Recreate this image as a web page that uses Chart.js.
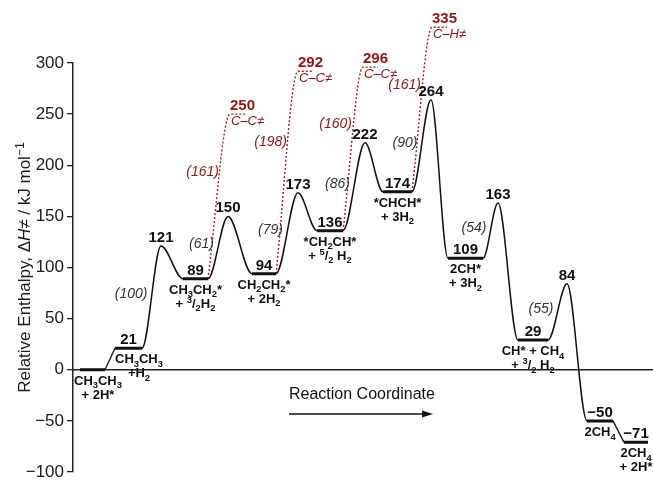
<!DOCTYPE html>
<html>
<head>
<meta charset="utf-8">
<script src="https://cdn.jsdelivr.net/npm/chart.js@4.4.1/dist/chart.umd.min.js"></script>
<style>
  html, body { margin: 0; padding: 0; background: #fff; }
  #wrap { width: 653px; height: 482px; }
</style>
</head>
<body>
<div id="wrap"><canvas id="energyChart"></canvas></div>
<script>
// intermediates: enthalpy (kJ/mol) and their span on the reaction coordinate
const stateEnergy = [0, 21, 89, 94, 136, 174, 109, 29, -50, -71];
const stateStart = [7, 42, 110, 179, 244, 310, 375, 445, 514, 551];
const stateEnd = [32, 69, 135, 203, 270, 339, 410, 475, 540, 575];
// '_' = subscript next char, '^' = superscript next char, '|' = new line
const stateNames = [
  'CH_3CH_3|+ 2H*',
  'CH_3CH_3|+H_2',
  'CH_3CH_2*|+ ^3/_2H_2',
  'CH_2CH_2*|+ 2H_2',
  '*CH_2CH*|+ ^5/_2 H_2',
  '*CHCH*|+ 3H_2',
  '2CH*|+ 3H_2',
  'CH* + CH_4|+ ^3/_2 H_2',
  '2CH_4',
  '2CH_4|+ 2H*'
];

// transition states between state i+1 and i+2 (solid path)
const tsEnergy = [121, 150, 173, 222, 264, 163, 84];
const tsCoord = [88, 155, 225, 292, 358, 425, 494];
const tsBarrier = [100, 61, 79, 86, 90, 54, 55];

// competing C-C / C-H cleavage transition states (red dotted)
const ccFrom = [2, 3, 4, 5];
const ccEnergy = [250, 292, 296, 335];
const ccCoord = [157, 225, 290, 359];
const ccBarrier = [161, 198, 160, 161];
const ccNames = ['C–C≠', 'C–C≠', 'C–C≠', 'C–H≠'];

const yTicks = [-100, -50, 0, 50, 100, 150, 200, 250, 300];

const FONT = '"Liberation Sans", Arial, sans-serif';
const BLACK = '#111';
const RED = '#a3201f';
const RED_TXT = '#8e1515';
const fmt = v => String(v).replace('-', '−');

// split a marked-up label into runs of the same style
function runs(str) {
  const out = [];
  let italic = false;
  for (let k = 0; k < str.length; k++) {
    let c = str[k], mode = 0;
    if (c === '~') { italic = !italic; continue; }
    if (c === '_' || c === '^') { mode = c === '_' ? 1 : -1; c = str[++k]; }
    const last = out[out.length - 1];
    if (last && last.mode === mode && last.italic === italic) last.t += c;
    else out.push({ t: c, mode, italic });
  }
  return out;
}
function runFont(r, size, bold) {
  const s = r.mode ? size * 0.72 : size;
  return (r.italic ? 'italic ' : '') + (bold ? 'bold ' : '') + s + 'px ' + FONT;
}
function richWidth(ctx, str, size, bold) {
  let w = 0;
  runs(str).forEach(r => { ctx.font = runFont(r, size, bold); w += ctx.measureText(r.t).width; });
  return w;
}
function drawRich(ctx, str, cx, baseY, size, bold) {
  let x = cx - richWidth(ctx, str, size, bold) / 2;
  ctx.textAlign = 'left';
  ctx.textBaseline = 'alphabetic';
  runs(str).forEach(r => {
    ctx.font = runFont(r, size, bold);
    const dy = r.mode === 1 ? size * 0.28 : r.mode === -1 ? -size * 0.38 : 0;
    ctx.fillText(r.t, x, baseY + dy);
    x += ctx.measureText(r.t).width;
  });
}

// solid path: plateau, TS, plateau, ...
const pathPts = [];
for (let i = 1; i <= 8; i++) {
  pathPts.push({ x: stateStart[i], y: stateEnergy[i] }, { x: stateEnd[i], y: stateEnergy[i] });
  if (i <= 7) pathPts.push({ x: tsCoord[i - 1], y: tsEnergy[i - 1] });
}
const levelPts = [];
stateEnergy.forEach((e, i) => {
  levelPts.push({ x: stateStart[i], y: e }, { x: stateEnd[i], y: e }, { x: stateEnd[i], y: null });
});

const datasets = [
  { data: levelPts, borderColor: BLACK, borderWidth: 3, tension: 0 },
  { data: pathPts, borderColor: BLACK, borderWidth: 1.5, cubicInterpolationMode: 'monotone' },
  { data: [{ x: stateEnd[0], y: stateEnergy[0] }, { x: stateStart[1], y: stateEnergy[1] }],
    borderColor: BLACK, borderWidth: 1.3, tension: 0 },
  { data: [{ x: stateEnd[8], y: stateEnergy[8] }, { x: stateStart[9], y: stateEnergy[9] }],
    borderColor: BLACK, borderWidth: 1.3, tension: 0 }
];
ccEnergy.forEach((e, j) => {
  const s = ccFrom[j];
  datasets.push({
    data: [{ x: stateEnd[s], y: stateEnergy[s] }, { x: ccCoord[j], y: e }, { x: ccCoord[j] + 15, y: e }],
    borderColor: RED, borderWidth: 1.4, borderDash: [2, 2],
    cubicInterpolationMode: 'monotone', capBezierPoints: false, clip: false
  });
});

const diagramPlugin = {
  id: 'diagram',
  beforeDatasetsDraw(chart) {
    const { ctx, chartArea: a, scales: { y } } = chart;
    const y0 = y.getPixelForValue(0);
    ctx.save();
    ctx.strokeStyle = '#222';
    ctx.lineWidth = 1.3;
    ctx.beginPath();
    ctx.moveTo(a.left, y0);
    ctx.lineTo(a.right, y0);
    ctx.stroke();
    ctx.restore();
  },
  afterDraw(chart) {
    const { ctx, chartArea: a, scales: { x, y } } = chart;
    ctx.save();
    ctx.fillStyle = BLACK;

    // species and their enthalpies (the 0 reference level carries no number)
    stateNames.forEach((name, i) => {
      const x0 = x.getPixelForValue(stateStart[i]);
      const x1 = x.getPixelForValue(stateEnd[i]);
      const py = y.getPixelForValue(stateEnergy[i]);
      const lines = name.split('|');
      const bw = Math.max(...lines.map(l => richWidth(ctx, l, 13, true)));
      let cx = i === 1 ? x0 + bw / 2 : (x0 + x1) / 2;
      cx = Math.max(cx, a.left + 1 + bw / 2);
      lines.forEach((l, k) => drawRich(ctx, l, cx, py + 15 + k * 14, 13, true));
      if (i === 0) return;
      ctx.font = 'bold 15px ' + FONT;
      ctx.textAlign = 'center';
      ctx.fillText(fmt(stateEnergy[i]), (x0 + x1) / 2, py - 4);
    });

    // transition states and barriers
    tsEnergy.forEach((e, j) => {
      const from = j + 1;
      const px = x.getPixelForValue(tsCoord[j]);
      const py = y.getPixelForValue(e);
      ctx.fillStyle = BLACK;
      ctx.font = 'bold 15px ' + FONT;
      ctx.textAlign = 'center';
      ctx.textBaseline = 'alphabetic';
      ctx.fillText(fmt(e), px, py - 4);
      const mx = (x.getPixelForValue(stateEnd[from]) + px) / 2;
      const my = y.getPixelForValue((stateEnergy[from] + e) / 2);
      ctx.fillStyle = '#333';
      ctx.font = 'italic 14px ' + FONT;
      ctx.textAlign = 'right';
      ctx.textBaseline = 'middle';
      ctx.fillText('(' + tsBarrier[j] + ')', mx - 4, my - 3);
    });

    // C-C / C-H cleavage branch
    ccEnergy.forEach((e, j) => {
      const s = ccFrom[j];
      const px = x.getPixelForValue(ccCoord[j]);
      const py = y.getPixelForValue(e);
      ctx.fillStyle = RED_TXT;
      ctx.textAlign = 'left';
      ctx.textBaseline = 'alphabetic';
      ctx.font = 'bold 15px ' + FONT;
      ctx.fillText(e, px, py - 4);
      ctx.font = 'italic 13px ' + FONT;
      ctx.fillText(ccNames[j], px + 1, py + 11);
      ctx.font = 'italic 14px ' + FONT;
      ctx.textAlign = 'right';
      ctx.textBaseline = 'middle';
      ctx.fillText('(' + ccBarrier[j] + ')', px - 11,
        y.getPixelForValue(stateEnergy[s] + 0.65 * ccBarrier[j]));
    });

    // reaction coordinate arrow
    ctx.fillStyle = '#111';
    ctx.font = '16px ' + FONT;
    ctx.textAlign = 'left';
    ctx.textBaseline = 'alphabetic';
    ctx.fillText('Reaction Coordinate', 289, 399);
    ctx.strokeStyle = '#111';
    ctx.lineWidth = 1.3;
    ctx.beginPath();
    ctx.moveTo(289, 414);
    ctx.lineTo(425, 414);
    ctx.stroke();
    ctx.beginPath();
    ctx.moveTo(433, 414);
    ctx.lineTo(422, 410.5);
    ctx.lineTo(422, 417.5);
    ctx.closePath();
    ctx.fill();

    // y-axis title with italic H and superscript, centred on the axis
    ctx.translate(23, (a.top + a.bottom) / 2);
    ctx.rotate(-Math.PI / 2);
    ctx.fillStyle = '#1a1a1a';
    drawRich(ctx, 'Relative Enthalpy, Δ~H≠~ / kJ mol^−^1', 0, 7, 17, false);
    ctx.restore();
  }
};

new Chart(document.getElementById('energyChart').getContext('2d'), {
  type: 'line',
  data: { datasets },
  options: {
    responsive: true,
    maintainAspectRatio: false,
    animation: false,
    layout: { padding: { left: 0, right: 0, top: 63, bottom: 10 } },
    elements: { point: { radius: 0 } },
    plugins: { legend: { display: false }, tooltip: { enabled: false } },
    scales: {
      x: { type: 'linear', min: 0, max: 580, display: false },
      y: {
        min: -100,
        max: 300,
        afterFit: s => { s.width = 73; },
        afterBuildTicks: s => { s.ticks = yTicks.map(v => ({ value: v })); },
        border: { display: true, color: '#222', width: 1.5 },
        grid: { drawOnChartArea: false, drawTicks: true, tickLength: 6, color: '#222', lineWidth: 1.3 },
        ticks: {
          padding: 3,
          color: '#1a1a1a',
          font: { size: 17, family: FONT, lineHeight: 0.7 },
          callback: v => fmt(v)
        }
      }
    }
  },
  plugins: [diagramPlugin]
});
</script>
</body>
</html>
